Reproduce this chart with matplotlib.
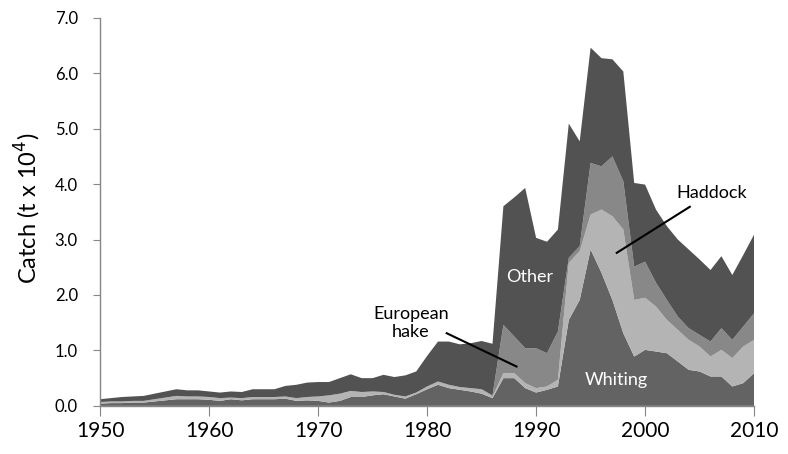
import numpy as np
import matplotlib
matplotlib.use("Agg")
import matplotlib.pyplot as plt

plt.rcParams['font.family'] = ['Lato', 'DejaVu Sans']

# --- data (t x 10^4) ---
years = np.arange(1950, 2011)

whiting = [0.04, 0.05, 0.05, 0.06, 0.06, 0.08, 0.10, 0.12, 0.12, 0.12,
           0.11, 0.09, 0.12, 0.10, 0.12, 0.12, 0.12, 0.13, 0.09, 0.10,
           0.09, 0.06, 0.09, 0.16, 0.16, 0.19, 0.21, 0.17, 0.13, 0.21,
           0.30, 0.38, 0.32, 0.29, 0.26, 0.22, 0.14, 0.50, 0.50, 0.32,
           0.24, 0.29, 0.35, 1.55, 1.91, 2.82, 2.40, 1.91, 1.31, 0.89,
           1.01, 0.98, 0.95, 0.80, 0.65, 0.62, 0.53, 0.53, 0.35, 0.41,
           0.59]

haddock = [0.03, 0.03, 0.03, 0.03, 0.03, 0.04, 0.05, 0.06, 0.05, 0.05,
           0.05, 0.05, 0.03, 0.04, 0.04, 0.04, 0.04, 0.04, 0.05, 0.06,
           0.08, 0.13, 0.13, 0.11, 0.09, 0.07, 0.04, 0.03, 0.04, 0.03,
           0.05, 0.06, 0.06, 0.05, 0.06, 0.08, 0.03, 0.09, 0.09, 0.09,
           0.08, 0.06, 0.12, 1.03, 0.88, 0.63, 1.14, 1.51, 1.87, 1.02,
           0.94, 0.81, 0.60, 0.57, 0.54, 0.45, 0.36, 0.48, 0.51, 0.66,
           0.60]

hake = [0.00, 0.00, 0.00, 0.00, 0.00, 0.00, 0.00, 0.00, 0.00, 0.00,
        0.00, 0.00, 0.00, 0.00, 0.00, 0.00, 0.00, 0.00, 0.00, 0.00,
        0.00, 0.00, 0.00, 0.00, 0.00, 0.00, 0.00, 0.00, 0.00, 0.00,
        0.00, 0.00, 0.00, 0.00, 0.00, 0.00, 0.02, 0.87, 0.66, 0.63,
        0.72, 0.60, 0.87, 0.09, 0.09, 0.93, 0.78, 1.08, 0.87, 0.60,
        0.65, 0.43, 0.36, 0.24, 0.21, 0.21, 0.27, 0.39, 0.33, 0.36,
        0.48]

other = [0.05, 0.06, 0.08, 0.08, 0.09, 0.10, 0.11, 0.12, 0.11, 0.11,
         0.10, 0.10, 0.11, 0.11, 0.14, 0.14, 0.14, 0.19, 0.24, 0.26,
         0.26, 0.24, 0.28, 0.30, 0.25, 0.24, 0.31, 0.32, 0.38, 0.38,
         0.55, 0.72, 0.78, 0.77, 0.81, 0.87, 0.93, 2.14, 2.51, 2.89,
         1.99, 2.01, 1.84, 2.42, 1.89, 2.08, 1.95, 1.75, 1.98, 1.51,
         1.39, 1.32, 1.33, 1.39, 1.42, 1.36, 1.29, 1.30, 1.17, 1.29,
         1.42]

colors = ['#636363', '#b4b4b4', '#888888', '#525252']

# --- plot ---
fig = plt.figure(figsize=(7.88, 4.54), dpi=100)
ax = fig.add_axes([0.127, 0.106, 0.830, 0.855])

ax.stackplot(years, whiting, haddock, hake, other, colors=colors, linewidth=0)

ax.set_xlim(1950, 2010)
ax.set_ylim(0, 7)
ax.set_xticks(range(1950, 2011, 10))
ax.set_yticks(np.arange(0, 7.01, 1.0))
ax.set_yticklabels([f"{v:.1f}" for v in np.arange(0, 7.01, 1.0)])

for s in ['top', 'right']:
    ax.spines[s].set_visible(False)
for s in ['left', 'bottom']:
    ax.spines[s].set_color('#868686')
    ax.spines[s].set_linewidth(1.0)
ax.tick_params(axis='y', direction='out', length=5, color='#868686', labelsize=12, pad=11)
ax.tick_params(axis='x', direction='out', length=7, color='#868686', labelsize=15, pad=4)

ax.set_ylabel("Catch (t x 10$^4$)", fontsize=17)
ax.yaxis.set_label_coords(-0.087, 0.508)

# labels
ax.text(1989.4, 2.33, "Other", color='white', fontsize=13, ha='center', va='center')
ax.text(1997.4, 0.47, "Whiting", color='white', fontsize=13, ha='center', va='center')
ax.text(2006.1, 3.83, "Haddock", color='black', fontsize=13, ha='center', va='center')
ax.plot([2004.1, 1997.4], [3.59, 2.76], color='black', lw=1.5)
ax.text(1978.5, 1.50, "European\nhake", color='black', fontsize=13, ha='center', va='center',
        linespacing=1.15)
ax.plot([1981.8, 1988.2], [1.31, 0.71], color='black', lw=1.5)

fig.savefig("out.png", dpi=100)
